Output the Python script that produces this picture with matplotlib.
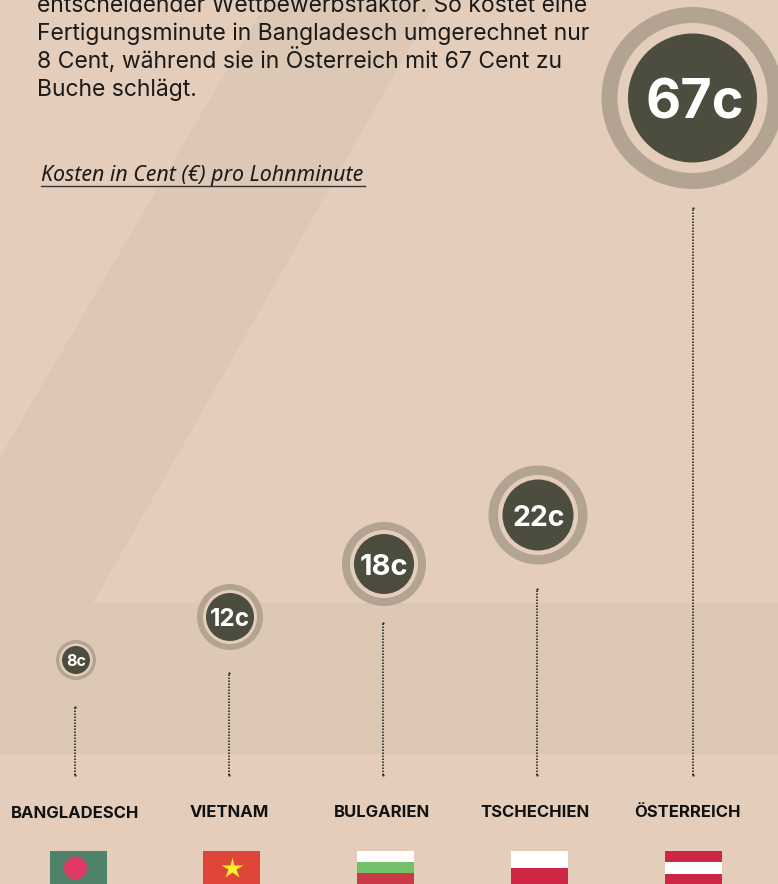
import matplotlib
matplotlib.use("Agg")
import matplotlib.pyplot as plt
from matplotlib.patches import Circle, Polygon, Rectangle

# data
countries = ["BANGLADESCH", "VIETNAM", "BULGARIEN", "TSCHECHIEN", "ÖSTERREICH"]
cents = [8, 12, 18, 22, 67]
value_labels = ["8c", "12c", "18c", "22c", "67c"]
intro_lines = ["entscheidender Wettbewerbsfaktor. So kostet eine",
               "Fertigungsminute in Bangladesch umgerechnet nur",
               "8 Cent, während sie in Österreich mit 67 Cent zu",
               "Buche schlägt."]
subtitle = "Kosten in Cent (€) pro Lohnminute"

# layout (pixels)
W, H = 778, 884
stem_x = [75.5, 229.5, 383.5, 537.5, 693]
label_x = [75, 229, 382, 535, 688]
label_y = [813.5, 812.5, 812.5, 812.5, 812.5]
bubble_xy = [(76, 660), (230, 617), (384, 564), (538, 515), (692.5, 98)]
text_x = [76, 230, 384, 539, 694.5]
bubble_r = [20, 33, 42, 49.5, 91]
dark_r = [14, 24, 30, 35.5, 64.5]
gap_r = [16.5, 27, 34, 40, 75]
value_fs = [11.5, 17.5, 21, 20.5, 39]
flag_x = [50, 203, 357, 511, 665]
flag_w = 57.5
BASE_PX = 775
PX_PER_CENT = 8.46

BG = "#E4CEBB"
DARK = "#4D4D3F"
RING = "#B3A392"
FONT = ["Inter", "DejaVu Sans"]

fig = plt.figure(figsize=(W / 100, H / 100), dpi=100, facecolor=BG)

# decoration layer in pixel coordinates
px = fig.add_axes([0, 0, 1, 1], facecolor=BG)
px.set_xlim(0, W)
px.set_ylim(H, 0)
px.axis("off")
px.add_patch(Polygon([(268, 0), (437, 0), (93, 603), (W, 603), (W, 755), (0, 755), (0, 457)],
                     closed=True, fc="#C4B49C", ec="none", alpha=0.22, zorder=1))

# data layer: y axis is in cents
ax = fig.add_axes([0, 0, 1, 1], facecolor="none")
ax.set_xlim(0, W)
ax.set_ylim(-(H - BASE_PX) / PX_PER_CENT, BASE_PX / PX_PER_CENT)
ax.axis("off")
for x, c in zip(stem_x, cents):
    ax.plot([x, x], [0, c], color="#1d2a30", lw=1.2, ls=(0, (0.9, 0.9)), zorder=2)
    ax.plot([x, x], [0, c], ls="none", marker="o", ms=1.6, mew=0, color="#1d2a30", zorder=2)

# bubbles
top = fig.add_axes([0, 0, 1, 1], facecolor="none")
top.set_xlim(0, W)
top.set_ylim(H, 0)
top.axis("off")
for (x, y), tx, ro, rg, rd, lab, fs in zip(bubble_xy, text_x, bubble_r, gap_r, dark_r, value_labels, value_fs):
    top.add_patch(Circle((x, y), ro, fc=RING, ec="none", zorder=3))
    top.add_patch(Circle((x, y), rg, fc=BG, ec="none", zorder=3))
    top.add_patch(Circle((x, y), rd, fc=DARK, ec="none", zorder=3))
    top.text(tx, y + 0.5, lab, color="white", fontsize=fs, fontweight="bold", family=FONT,
             ha="center", va="center_baseline", zorder=4)

for x, y, name in zip(label_x, label_y, countries):
    top.text(x, y, name, color="#111111", fontsize=12, fontweight="bold", family=FONT,
             ha="center", va="center")

# text block
for y, line in zip([12, 40, 68, 96], intro_lines):
    top.text(37, y, line, color="#1a1a1a", fontsize=16.5, family=FONT, ha="left", va="baseline")
top.text(41, 181, subtitle, color="#1a1a1a", fontsize=15.4, style="italic",
         family=["Noto Sans", "DejaVu Sans"], ha="left", va="baseline")
top.plot([41, 365], [186, 186], color="#333333", lw=1)

# flags
fy = 851
def bands(x, spec):
    for y0, y1, col in spec:
        top.add_patch(Rectangle((x, y0), flag_w, y1 - y0, fc=col, ec="none", zorder=3))
bands(flag_x[0], [(fy, H, "#4E8269")])
top.add_patch(Circle((flag_x[0] + 25.5, 868), 11.5, fc="#E23A66", ec="none", zorder=4))
bands(flag_x[1], [(fy, H, "#E0453A")])
top.plot([flag_x[1] + 29], [867.5], marker="*", ms=16, color="#FFF02E", mec="none", zorder=4)
bands(flag_x[2], [(fy, 862, "#FFFFFF"), (862, 873, "#74C069"), (873, H, "#C93A46")])
bands(flag_x[3], [(fy, 868, "#FFFFFF"), (868, H, "#CE2745")])
bands(flag_x[4], [(fy, 862, "#CE2745"), (862, 874, "#FFFFFF"), (874, H, "#CE2745")])

fig.savefig("out.png", dpi=100, facecolor=BG)
